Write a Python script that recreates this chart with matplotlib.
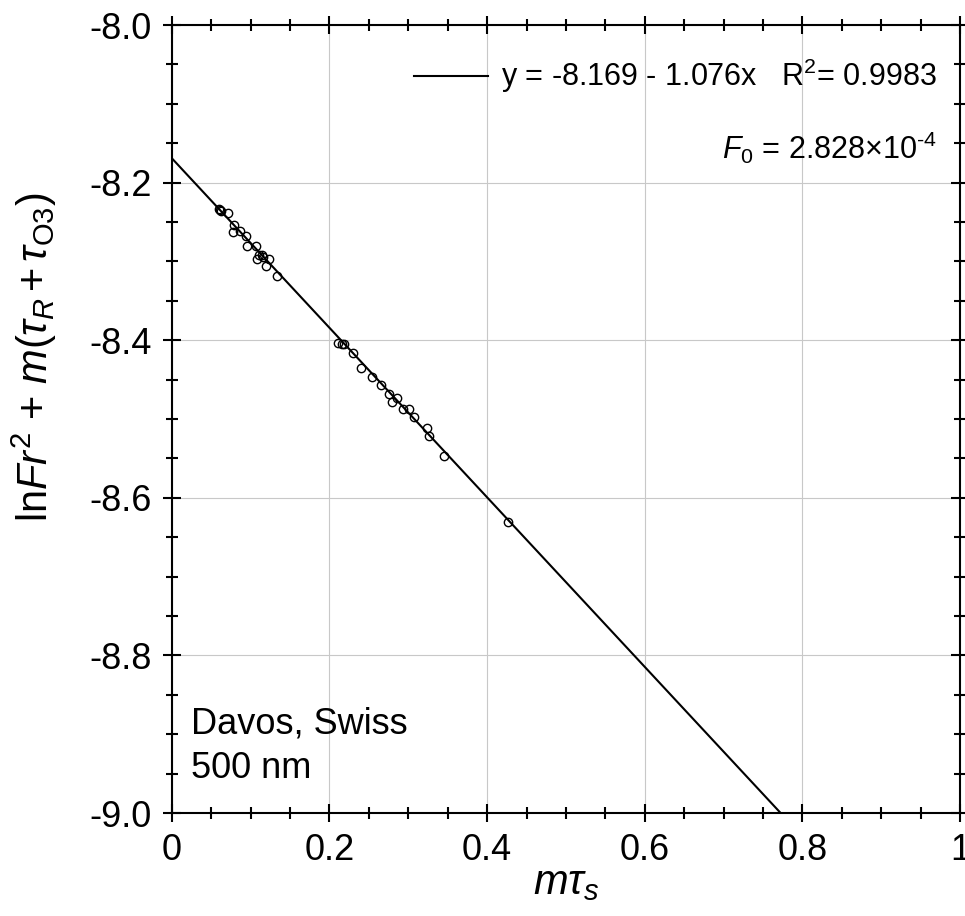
import matplotlib
matplotlib.use("Agg")
import matplotlib.pyplot as plt
import numpy as np

plt.rcParams['font.family'] = ['Liberation Sans', 'DejaVu Sans']
plt.rcParams['mathtext.fontset'] = 'custom'
plt.rcParams['mathtext.rm'] = 'Liberation Sans'
plt.rcParams['mathtext.it'] = 'Liberation Sans:italic'
plt.rcParams['mathtext.bf'] = 'Liberation Sans:bold'

m_tau_s = [0.0600, 0.0613, 0.0625, 0.0711, 0.0791, 0.0774, 0.0867, 0.0943,
           0.0959, 0.1070, 0.1112, 0.1142, 0.1086, 0.1162, 0.1239, 0.1197,
           0.1340, 0.2114, 0.2157, 0.2187, 0.2305, 0.2398, 0.2538, 0.2656,
           0.2749, 0.2792, 0.2855, 0.2939, 0.3003, 0.3075, 0.3236, 0.3269,
           0.3447, 0.4264]
ln_fr2 = [-8.2330, -8.2348, -8.2362, -8.2390, -8.2538, -8.2623, -8.2614, -8.2678,
          -8.2805, -8.2805, -8.2919, -8.2919, -8.2970, -8.2948, -8.2973, -8.3058,
          -8.3185, -8.4032, -8.4048, -8.4048, -8.4159, -8.4349, -8.4471, -8.4569,
          -8.4683, -8.4780, -8.4737, -8.4877, -8.4877, -8.4971, -8.5118, -8.5216,
          -8.5470, -8.6303]

# regression line
fit_intercept = -8.169
fit_slope = -1.076
fit_r2 = 0.9983
f0 = '2.828'

xticks = [0, 0.2, 0.4, 0.6, 0.8, 1.0]
xtick_labels = ['0', '0.2', '0.4', '0.6', '0.8', '1']
yticks = [-8.0, -8.2, -8.4, -8.6, -8.8, -9.0]
ytick_labels = ['-8.0', '-8.2', '-8.4', '-8.6', '-8.8', '-9.0']

fig = plt.figure(figsize=(9.65, 9.16), dpi=100)
ax = fig.add_axes([0.178, 0.1124, 0.817, 0.8603])

line_x = np.array([0.0, 1.0])
ax.plot(line_x, fit_intercept + fit_slope * line_x, color='black', lw=1.5,
        label=f'y = {fit_intercept} - {abs(fit_slope)}x   R$^2$= {fit_r2}', zorder=3)
ax.plot(m_tau_s, ln_fr2, 'o', mfc='none', mec='black', ms=6, mew=1.0, zorder=4)

ax.set_xlim(0, 1)
ax.set_ylim(-9.0, -8.0)
ax.set_xticks(xticks)
ax.set_xticklabels(xtick_labels)
ax.set_yticks(yticks)
ax.set_yticklabels(ytick_labels)
ax.set_xticks(np.arange(0, 1.0001, 0.05), minor=True)
ax.set_yticks(np.arange(-9.0, -7.9999, 0.05), minor=True)

ax.grid(True, which='major', color='#c8c8c8', lw=0.8, zorder=0)
ax.tick_params(which='both', direction='inout', top=True, right=True,
               labelsize=26, width=1.5, pad=8)
ax.tick_params(which='major', length=13)
ax.tick_params(which='minor', length=8)
for s in ax.spines.values():
    s.set_linewidth(1.5)

ax.set_xlabel(r'$m\tau_s$', fontsize=30, labelpad=-4)
ax.set_ylabel(r'ln$Fr^2$ + $m$($\tau_R\,$+$\,\tau_{\mathrm{O3}}$)', fontsize=30)
ax.yaxis.set_label_coords(-0.143, 0.578)

leg = ax.legend(loc='center right', bbox_to_anchor=(0.970, 0.935), frameon=False,
                fontsize=22, handlelength=2.4, handletextpad=0.43, borderpad=0,
                borderaxespad=0)

ax.text(0.970, 0.844, r'$F_{\mathit{0}}$ = ' + f0 + r'×10$^{\text{-}4}$', transform=ax.transAxes,
        ha='right', va='center', fontsize=22)

ax.text(0.024, 0.044, 'Davos, Swiss\n500 nm', transform=ax.transAxes,
        ha='left', va='baseline', fontsize=26, linespacing=1.38)

fig.savefig('out.png', dpi=100)
